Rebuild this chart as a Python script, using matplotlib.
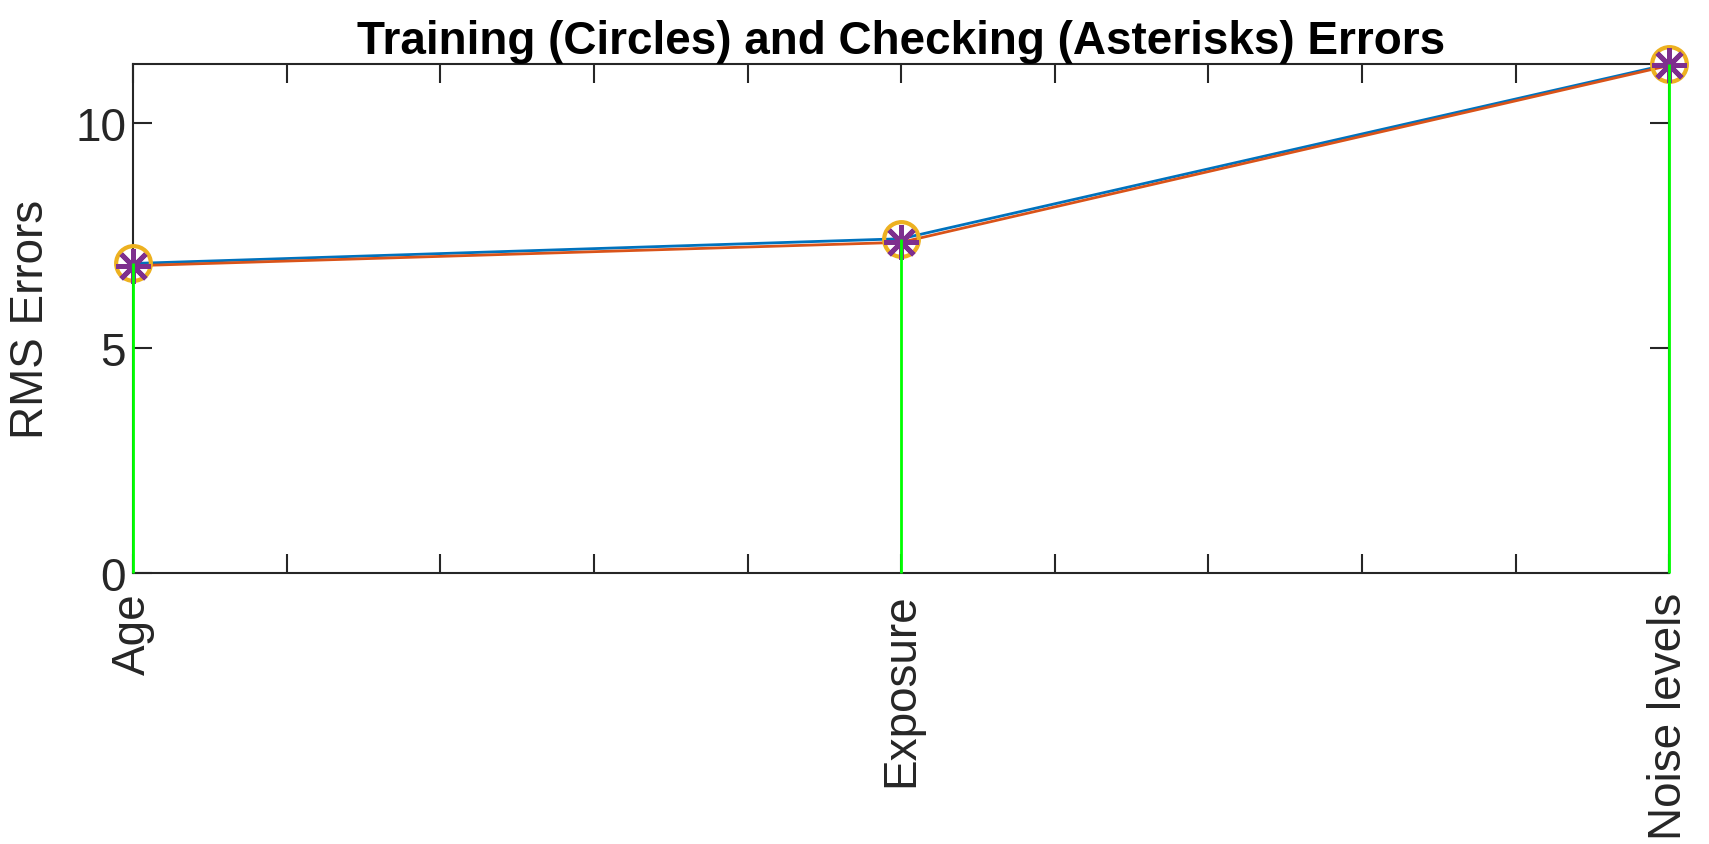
import numpy as np
from matplotlib import pyplot as plt
from matplotlib.ticker import FixedLocator

# Daten
inputs = ["Age", "Exposure", "Noise levels"]
trn_error = [6.87, 7.42, 11.30]   # Kreise
chk_error = [6.82, 7.34, 11.27]   # Sternchen

plt.rcParams["font.family"] = ["Liberation Sans", "DejaVu Sans"]

fig = plt.figure(figsize=(17.09, 8.45), dpi=100)
ax = fig.add_axes([0.0778, 0.321, 0.899, 0.602])

x = np.arange(1, len(inputs) + 1)

ax.plot(x, trn_error, color="#0072BD", lw=2, zorder=2, clip_on=False)
ax.plot(x, chk_error, color="#D95319", lw=2, zorder=2, clip_on=False)
ax.plot(x, trn_error, "o", ms=25, mfc="none", mec="#EDB120", mew=3,
        zorder=3, clip_on=False)
ax.plot(x, chk_error, marker=(8, 2, 0), ls="none", ms=25, mec="#7E2F8E",
        mew=3.5, zorder=4, clip_on=False)
ax.vlines(x, 0, trn_error, color="#00FF00", lw=2, zorder=5, clip_on=False)

ax.set_xlim(1, 3)
ax.set_ylim(0, 11.3)
ax.xaxis.set_major_locator(FixedLocator(x))
ax.set_xticklabels(inputs, rotation=90)
ax.xaxis.set_minor_locator(FixedLocator(np.arange(1.2, 3.0, 0.2)))
ax.set_yticks([0, 5, 10])

ax.tick_params(which="both", direction="in", top=True, right=True,
               length=14, width=1.5, colors="#262626", labelsize=33,
               labelcolor="#262626")
ax.tick_params(axis="x", pad=14)
ax.tick_params(axis="y", pad=5)
for s in ax.spines.values():
    s.set_linewidth(1.5)
    s.set_color("#262626")

ax.set_ylabel("RMS Errors", fontsize=33, color="#262626", labelpad=16)
ax.set_title("Training (Circles) and Checking (Asterisks) Errors",
             fontsize=33, fontweight="bold", pad=8)

fig.savefig("out.png", dpi=100)
